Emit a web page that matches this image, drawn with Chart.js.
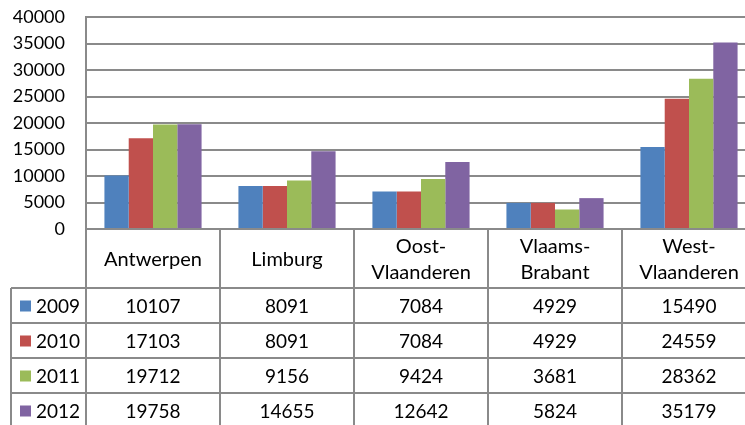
<!DOCTYPE html>
<html lang="nl">
<head>
    <meta charset="UTF-8">
    <title>Provincies 2009-2012</title>
    <script src="https://cdn.jsdelivr.net/npm/chart.js"></script>
    <style>
        html, body {
            margin: 0;
            padding: 0;
            background: #fff;
            overflow: hidden;
        }
        #wrap {
            width: 745px;
            height: 425px;
            overflow: hidden;
        }
    </style>
</head>
<body>
    <div id="wrap">
        <canvas id="provChart" width="756" height="425"></canvas>
    </div>

    <script>
        const provinces = ["Antwerpen", "Limburg", ["Oost-", "Vlaanderen"], ["Vlaams-", "Brabant"], ["West-", "Vlaanderen"]];
        const years = ["2009", "2010", "2011", "2012"];
        const values2009 = [10107, 8091, 7084, 4929, 15490];
        const values2010 = [17103, 8091, 7084, 4929, 24559];
        const values2011 = [19712, 9156, 9424, 3681, 28362];
        const values2012 = [19758, 14655, 12642, 5824, 35179];
        const yTicks = [0, 5000, 10000, 15000, 20000, 25000, 30000, 35000, 40000];

        const colors = ["#4F81BD", "#C0504D", "#9BBB59", "#8064A2"];
        const lineColor = "#8a8a8a";
        const fontFamily = "Lato, 'Open Sans', sans-serif";
        const numFont = "19px " + fontFamily;
        const textFont = "20px " + fontFamily;

        // draws the data table under the plot, using the x scale for column positions
        const dataTable = {
            id: "dataTable",
            afterDraw(chart) {
                const ctx = chart.ctx;
                const xs = chart.scales.x;
                const area = chart.chartArea;
                const series = chart.data.datasets;
                const n = chart.data.labels.length;
                const colW = xs.width / n;
                const headerH = 59;
                const rowH = 35;
                const legendLeft = 11;
                const bottom = chart.height;
                const headTop = area.bottom;
                const rowsTop = headTop + headerH;

                ctx.save();
                ctx.strokeStyle = lineColor;
                ctx.lineWidth = 2;

                // column lines
                for (let i = 0; i <= n; i++) {
                    const x = Math.round(xs.getPixelForValue(0) - colW / 2 + i * colW);
                    ctx.beginPath();
                    ctx.moveTo(x, headTop);
                    ctx.lineTo(x, bottom);
                    ctx.stroke();
                }
                ctx.beginPath();
                ctx.moveTo(legendLeft, rowsTop);
                ctx.lineTo(legendLeft, bottom);
                ctx.stroke();

                // row lines
                for (let r = 0; r < series.length; r++) {
                    const y = rowsTop + r * rowH;
                    ctx.beginPath();
                    ctx.moveTo(legendLeft, y);
                    ctx.lineTo(xs.right, y);
                    ctx.stroke();
                }

                ctx.fillStyle = "#000";
                ctx.font = textFont;
                ctx.textAlign = "center";
                ctx.textBaseline = "middle";

                // header labels
                chart.data.labels.forEach((lab, i) => {
                    const cx = xs.getPixelForValue(i);
                    const lines = Array.isArray(lab) ? lab : [lab];
                    const lh = 26;
                    const mid = headTop + headerH / 2 + 1;
                    lines.forEach((t, k) => {
                        ctx.fillText(t, cx, mid + (k - (lines.length - 1) / 2) * lh);
                    });
                });

                // rows
                ctx.font = numFont;
                series.forEach((ds, r) => {
                    const cy = rowsTop + r * rowH + rowH / 2 + 1;
                    ctx.fillStyle = ds.backgroundColor;
                    ctx.fillRect(20, cy - 6, 11, 11);
                    ctx.fillStyle = "#000";
                    ctx.textAlign = "left";
                    ctx.fillText(ds.label, 36, cy);
                    ctx.textAlign = "center";
                    ds.data.forEach((v, i) => {
                        ctx.fillText(String(v), xs.getPixelForValue(i), cy);
                    });
                });
                ctx.restore();
            }
        };

        const ctx = document.getElementById("provChart").getContext("2d");
        new Chart(ctx, {
            type: "bar",
            data: {
                labels: provinces,
                datasets: [
                    { label: years[0], data: values2009, backgroundColor: colors[0] },
                    { label: years[1], data: values2010, backgroundColor: colors[1] },
                    { label: years[2], data: values2011, backgroundColor: colors[2] },
                    { label: years[3], data: values2012, backgroundColor: colors[3] }
                ]
            },
            options: {
                responsive: false,
                animation: false,
                layout: { padding: { top: 17, right: 0, bottom: 196, left: 0 } },
                datasets: { bar: { categoryPercentage: 0.725, barPercentage: 1, borderWidth: 0 } },
                plugins: {
                    legend: { display: false },
                    tooltip: { enabled: false }
                },
                scales: {
                    x: {
                        ticks: { display: false },
                        grid: { display: false },
                        border: { display: false },
                        afterFit: s => { s.height = 0; }
                    },
                    y: {
                        min: 0,
                        max: 40000,
                        afterBuildTicks: s => { s.ticks = yTicks.map(v => ({ value: v })); },
                        afterFit: s => {
                            s.width = 86;
                            s.paddingTop = 0;
                            s.paddingBottom = 0;
                        },
                        ticks: {
                            autoSkip: false,
                            padding: 21,
                            color: "#000",
                            font: { family: fontFamily, size: 18 },
                            callback: v => String(v)
                        },
                        grid: { color: lineColor, lineWidth: 2, drawTicks: false },
                        border: { display: true, color: lineColor, width: 2 }
                    }
                }
            },
            plugins: [dataTable]
        });
    </script>
</body>
</html>
